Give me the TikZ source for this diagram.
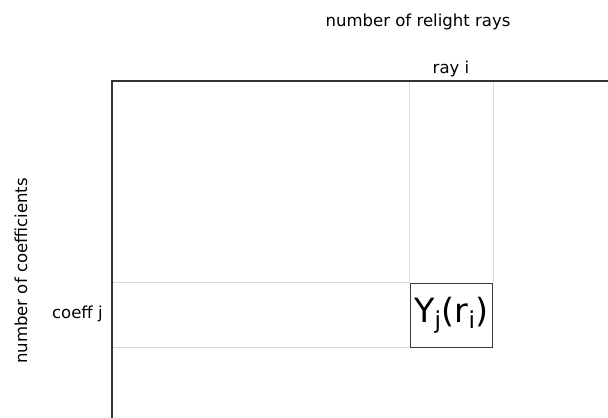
\documentclass[tikz,border=0pt]{standalone}
\usepackage{fontspec}
\setmainfont{DejaVu Sans}
\usetikzlibrary{positioning,calc}
\definecolor{axisGray}{HTML}{333333}
\definecolor{gridGray}{HTML}{DADADA}
\definecolor{cellGray}{HTML}{3A3A3A}
\tikzset{
    % Lines
    axisLine/.style={draw=axisGray, line width=1.3pt},
    gridLine/.style={draw=gridGray, line width=0.8pt},
    % Text
    axisLabel/.style={font=\fontsize{12.4}{15}\selectfont, text=black, inner sep=0pt},
    cellBox/.style={
        rectangle,
        draw=cellGray,
        line width=0.7pt,
        fill=white,
        minimum width=62pt,
        minimum height=48pt,
        inner sep=0pt,
        font=\fontsize{25}{30}\selectfont
    }
}
\begin{document}
\begin{tikzpicture}[x=0.75pt, y=-0.75pt]
\useasboundingbox (0,0) rectangle (608,418);

% Axes
\coordinate (origin) at (112,81);
\coordinate (xEnd) at (608,81);
\coordinate (yEnd) at (112,418);

% Matrix entry
\node[cellBox] (cell) at (451.5,315) {Y\textsubscript{j}(r\textsubscript{i})};

% Guide lines for row and column
\draw[gridLine] (cell.north west) -- (cell.north west |- origin);
\draw[gridLine] (cell.north east) -- (cell.north east |- origin);
\draw[gridLine] (cell.north west) -- (cell.north west -| origin);
\draw[gridLine] (cell.south west) -- (cell.south west -| origin);

\draw[axisLine] (xEnd) -- (origin) -- (yEnd);

% Labels
\node[axisLabel] (rayLbl) at (451,69) {ray i};
\node[axisLabel] (raysTitle) at (418,22) {number of relight rays};
\node[axisLabel, anchor=east] (coeffLbl) at (103,314) {coeff j};
\node[axisLabel, rotate=90] (coeffsTitle) at (21,271) {number of coefficients};
\end{tikzpicture}
\end{document}
